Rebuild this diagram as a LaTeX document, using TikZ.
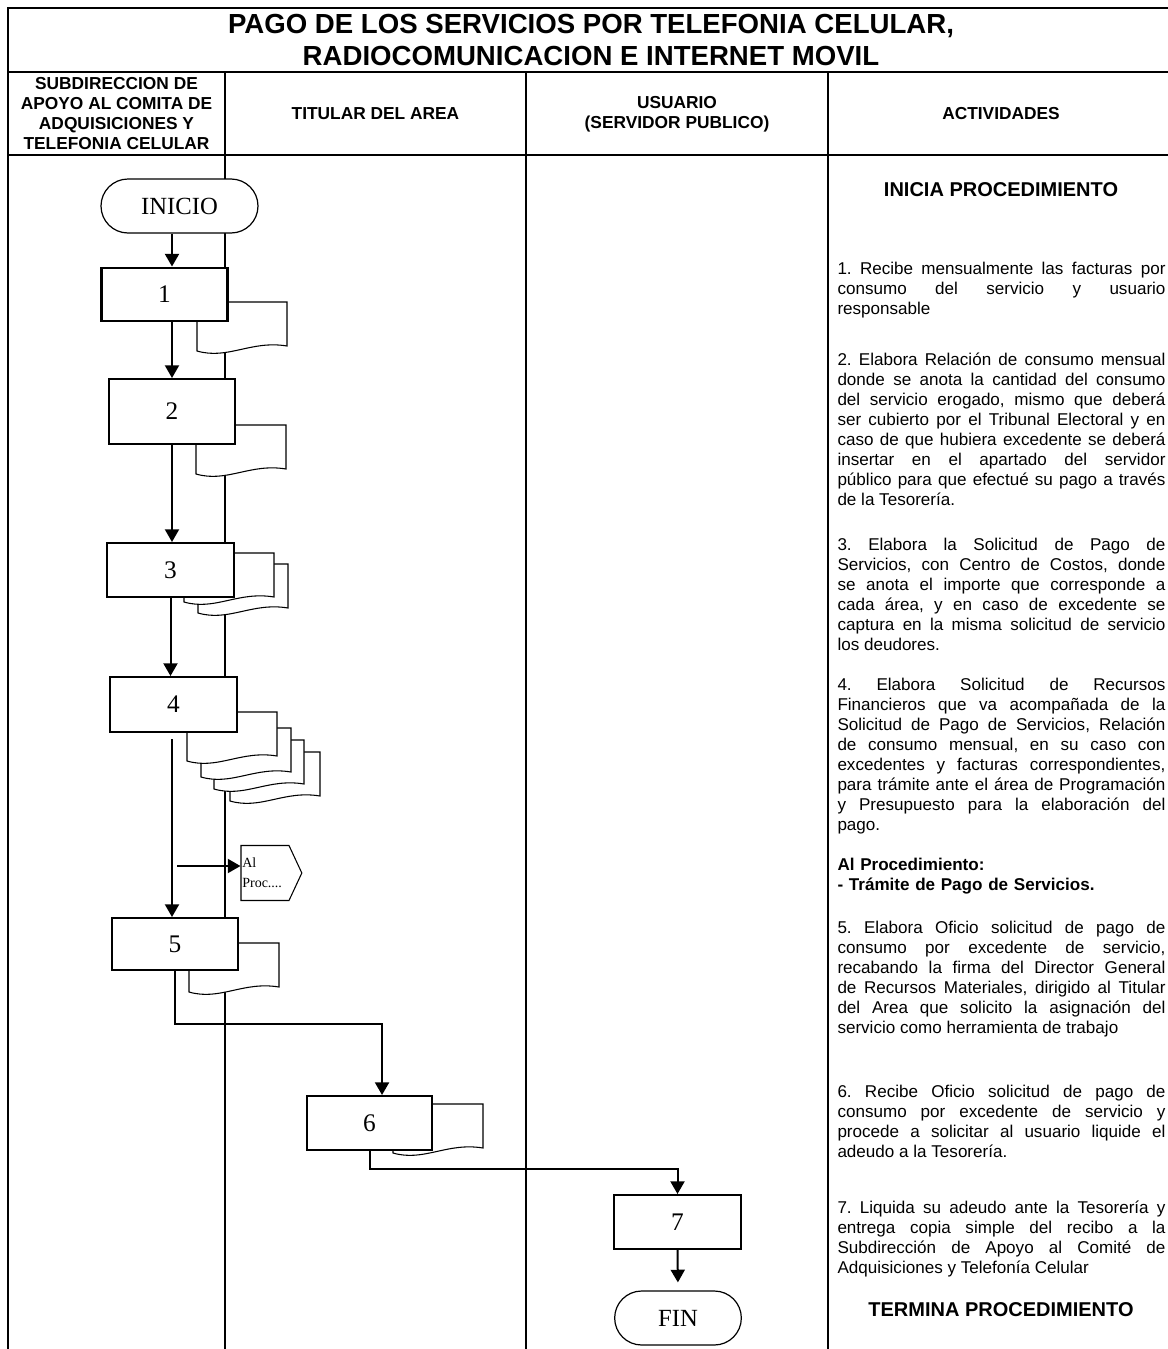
\documentclass[tikz,border=0pt]{standalone}
\usepackage{fontspec}
\setmainfont{Liberation Sans}
\newfontfamily\numfont{Liberation Serif}
\usetikzlibrary{arrows.meta,shapes.misc,shapes.symbols}
\frenchspacing
\tolerance=10000
\hbadness=10000
\tikzset{every picture/.style={line width=0.75pt}}
\tikzset{
  lane/.style={line width=1.5pt},
  stepbox/.style={draw, line width=1.5pt, fill=white, inner sep=0pt,
    minimum width=95pt, minimum height=40.5pt,
    font=\numfont\fontsize{19}{19}\selectfont},
  terminal/.style={draw, rounded rectangle, line width=0.9pt, fill=white, inner sep=0pt,
    minimum width=95pt, minimum height=40.5pt,
    font=\numfont\fontsize{18.5}{18.5}\selectfont},
  docsheet/.style={draw, fill=white, line width=0.8pt},
  flow/.style={line width=1.5pt, -{Triangle[length=9.5pt,width=10.5pt]}},
  offpage/.style={draw, signal, signal to=east, signal from=nowhere, signal pointer angle=130,
    fill=white, line width=0.8pt, inner sep=1pt, minimum width=39pt, minimum height=41.25pt,
    text width=34pt, align=left, font=\numfont\fontsize{10.5}{15}\selectfont},
  headtext/.style={inner sep=0pt, align=center, font=\bfseries\fontsize{13}{15}\selectfont},
  titletext/.style={inner sep=0pt, align=center, font=\bfseries\fontsize{20.7}{24}\selectfont},
  acttext/.style={anchor=north west, inner sep=0pt, text width=246pt, align=justify,
    font=\fontsize{12.8}{15}\selectfont},
}

\begin{document}
\begin{tikzpicture}[x=0.75pt,y=0.75pt,yscale=-1,xscale=1]
\useasboundingbox (0,0) rectangle (1167,1349);

%Straight Lines: frame and lanes
\draw[lane] (8,1349) -- (8,8) -- (1168,8) ;
\draw[lane] (8,72) -- (1168,72) ;
\draw[lane] (8,155) -- (1168,155) ;
\draw[lane] (225,72) -- (225,1349) ;
\draw[lane] (526,72) -- (526,1349) ;
\draw[lane] (828,72) -- (828,1349) ;

% Text Node
\draw (591,40) node (title) [titletext] {PAGO DE LOS SERVICIOS POR TELEFONIA CELULAR,\\RADIOCOMUNICACION E INTERNET MOVIL};
% Text Node
\draw (116.5,114) node (hsub) [headtext] {SUBDIRECCION DE\\APOYO AL COMITA DE\\ADQUISICIONES Y\\TELEFONIA CELULAR};
% Text Node
\draw (375.5,114) node (htit) [headtext] {TITULAR DEL AREA};
% Text Node
\draw (677,114) node (husu) [headtext] {USUARIO\\(SERVIDOR PUBLICO)};
% Text Node
\draw (1001,114) node (hact) [headtext] {ACTIVIDADES};

%Shape: Document
\draw[docsheet] (197,302) -- (287,302) -- (287,346) .. controls (251,340) and (228,360) .. (197,351) -- cycle ;
%Shape: Document
\draw[docsheet] (196,425) -- (286,425) -- (286,469) .. controls (250,463) and (227,483) .. (196,474) -- cycle ;
%Shape: Document
\draw[docsheet] (198,564) -- (288,564) -- (288,608) .. controls (252,602) and (229,622) .. (198,613) -- cycle ;
\draw[docsheet] (184,553) -- (274,553) -- (274,597) .. controls (238,591) and (215,611) .. (184,602) -- cycle ;
%Shape: Document
\draw[docsheet] (230,752) -- (320,752) -- (320,796) .. controls (284,790) and (261,810) .. (230,801) -- cycle ;
\draw[docsheet] (214,740) -- (304,740) -- (304,784) .. controls (268,778) and (245,798) .. (214,789) -- cycle ;
\draw[docsheet] (201,728) -- (291,728) -- (291,772) .. controls (255,766) and (232,786) .. (201,777) -- cycle ;
\draw[docsheet] (187,712) -- (277,712) -- (277,756) .. controls (241,750) and (218,770) .. (187,761) -- cycle ;
%Shape: Document
\draw[docsheet] (189,943) -- (279,943) -- (279,987) .. controls (243,981) and (220,1001) .. (189,992) -- cycle ;
%Shape: Document
\draw[docsheet] (393,1104) -- (483,1104) -- (483,1148) .. controls (447,1142) and (424,1162) .. (393,1153) -- cycle ;

%Shape: Rounded Rectangle
\node (inicio) [terminal, minimum width=117.75pt] at (179.5,206) {INICIO};
%Shape: Rectangle
\node (b1) [stepbox, line width=2.2pt, minimum height=39.75pt] at (164.5,294.5) {1};
%Shape: Rectangle
\node (b2) [stepbox, minimum width=94.5pt, minimum height=48.75pt] at (172,411.5) {2};
%Shape: Rectangle
\node (b3) [stepbox] at (170.5,570) {3};
%Shape: Rectangle
\node (b4) [stepbox, minimum height=41.25pt] at (173.5,704.5) {4};
%Shape: Signal
\node (alproc) [offpage] at (265,873) {Al\\Proc....};
%Shape: Rectangle
\node (b5) [stepbox, minimum width=94.5pt, minimum height=39pt] at (175,944) {5};
%Shape: Rectangle
\node (b6) [stepbox, minimum width=93.75pt] at (369.5,1123) {6};
%Shape: Rectangle
\node (b7) [stepbox] at (677.5,1222) {7};
%Shape: Rounded Rectangle
\node (fin) [terminal] at (678,1318) {FIN};

%Straight Lines
\draw[flow] (inicio.south -| b2.north) -- (b1.north -| b2.north) ;
\draw[flow] (b1.south -| b2.north) -- (b2.north) ;
\draw[flow] (b2.south) -- (b3.north -| b2.south) ;
\draw[flow] (b3.south) -- (b4.north -| b3.south) ;
\draw[flow] ([yshift=4.5pt]b4.south -| b2.south) -- (b5.north -| b2.south) ;
\coordinate (tap) at (177,866);
\draw[flow] (tap) -- (tap -| alproc.west) ;
\draw[flow] (b5.south) -- ++(0,53) -| ([xshift=9.4pt]b6.north) ;
\draw[flow] (b6.south) -- ++(0,18) -| (b7.north) ;
\draw[flow, shorten >=6pt] (b7.south) -- (fin.north) ;

% Text Node
\draw (1001,190) node (inicia) [headtext, font=\bfseries\fontsize{15}{15}\selectfont] {INICIA PROCEDIMIENTO};
% Text Node
\draw (837,262) node (a1) [acttext] {1. Recibe mensualmente las facturas por\linebreak consumo del servicio y usuario\linebreak responsable};
% Text Node
\draw (837,352) node (a2) [acttext] {2. Elabora Relación de consumo mensual\linebreak donde se anota la cantidad del consumo\linebreak del servicio erogado, mismo que deberá\linebreak ser cubierto por el Tribunal Electoral y en\linebreak caso de que hubiera excedente se deberá\linebreak insertar en el apartado del servidor\linebreak público para que efectué su pago a través\linebreak de la Tesorería.};
% Text Node
\draw (837,538) node (a3) [acttext] {3. Elabora la Solicitud de Pago de\linebreak Servicios, con Centro de Costos, donde\linebreak se anota el importe que corresponde a\linebreak cada área, y en caso de excedente se\linebreak captura en la misma solicitud de servicio\linebreak los deudores.};
% Text Node
\draw (837,678) node (a4) [acttext] {4. Elabora Solicitud de Recursos\linebreak Financieros que va acompañada de la\linebreak Solicitud de Pago de Servicios, Relación\linebreak de consumo mensual, en su caso con\linebreak excedentes y facturas correspondientes,\linebreak para trámite ante el área de Programación\linebreak y Presupuesto para la elaboración del\linebreak pago.};
% Text Node
\draw (837,858) node (aref) [acttext, align=left, font=\bfseries\fontsize{12.8}{15}\selectfont] {Al Procedimiento:\\- Trámite de Pago de Servicios.};
% Text Node
\draw (837,921) node (a5) [acttext] {5. Elabora Oficio solicitud de pago de\linebreak consumo por excedente de servicio,\linebreak recabando la firma del Director General\linebreak de Recursos Materiales, dirigido al Titular\linebreak del Area que solicito la asignación del\linebreak servicio como herramienta de trabajo};
% Text Node
\draw (837,1085) node (a6) [acttext] {6. Recibe Oficio solicitud de pago de\linebreak consumo por excedente de servicio y\linebreak procede a solicitar al usuario liquide el\linebreak adeudo a la Tesorería.};
% Text Node
\draw (837,1200) node (a7) [acttext] {7. Liquida su adeudo ante la Tesorería y\linebreak entrega copia simple del recibo a la\linebreak Subdirección de Apoyo al Comité de\linebreak Adquisiciones y Telefonía Celular};
% Text Node
\draw (1001,1310) node (termina) [headtext, font=\bfseries\fontsize{15}{15}\selectfont] {TERMINA PROCEDIMIENTO};

\end{tikzpicture}
\end{document}
